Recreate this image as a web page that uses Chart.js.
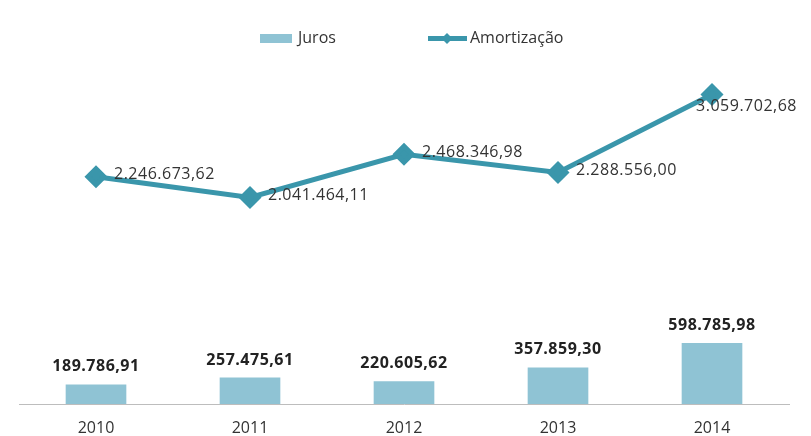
<!DOCTYPE html>
<html>
<head>
<meta charset="utf-8">
<script src="https://cdn.jsdelivr.net/npm/chart.js@4.4.1/dist/chart.umd.min.js"></script>
<style>
  body { margin: 0; background: #fff; }
  #wrap { width: 811px; height: 436px; }
</style>
</head>
<body>
<div id="wrap"><canvas id="myChart"></canvas></div>
<script>
const years = ["2010", "2011", "2012", "2013", "2014"];
const juros = [189786.91, 257475.61, 220605.62, 357859.3, 598785.98];
const amortizacao = [2246673.62, 2041464.11, 2468346.98, 2288556.0, 3059702.68];

const barColor = "#8fc3d4";
const lineColor = "#3a96ab";

// 1234567.8 -> "1.234.567,80"
function fmt(v) {
  const parts = v.toFixed(2).split(".");
  return parts[0].replace(/\B(?=(\d{3})+(?!\d))/g, ".") + "," + parts[1];
}

const labelsPlugin = {
  id: "labels",
  afterDatasetsDraw(chart) {
    const ctx = chart.ctx;
    ctx.save();
    ctx.letterSpacing = "0.5px";

    // bar labels, bold, above each bar
    ctx.font = "bold 16px 'Open Sans'";
    ctx.fillStyle = "#222";
    ctx.textAlign = "center";
    ctx.textBaseline = "bottom";
    chart.getDatasetMeta(0).data.forEach((bar, i) => {
      ctx.fillText(fmt(juros[i]), bar.x, bar.y - 10);
    });

    // line labels, to the right of the points
    ctx.font = "16px 'Open Sans'";
    ctx.fillStyle = "#333";
    ctx.textAlign = "left";
    ctx.textBaseline = "middle";
    chart.getDatasetMeta(1).data.forEach((pt, i) => {
      const txt = fmt(amortizacao[i]);
      const w = ctx.measureText(txt).width;
      let x = pt.x + 18;
      let y = pt.y - 2;
      if (x + w > chart.width - 14) {
        x = chart.width - 14 - w;
        y = pt.y + 12;
      }
      ctx.fillText(txt, x, y);
    });
    ctx.restore();
  },
  afterDraw(chart) {
    // legend
    const ctx = chart.ctx;
    ctx.save();
    ctx.fillStyle = barColor;
    ctx.fillRect(260, 34, 32, 9);
    ctx.font = "16px 'Open Sans'";
    ctx.fillStyle = "#333";
    ctx.textBaseline = "middle";
    ctx.fillText("Juros", 298, 38);

    ctx.strokeStyle = lineColor;
    ctx.lineWidth = 5;
    ctx.beginPath();
    ctx.moveTo(428, 38.5);
    ctx.lineTo(467, 38.5);
    ctx.stroke();
    ctx.fillStyle = lineColor;
    ctx.beginPath();
    ctx.moveTo(447, 33);
    ctx.lineTo(452.5, 38.5);
    ctx.lineTo(447, 44);
    ctx.lineTo(441.5, 38.5);
    ctx.closePath();
    ctx.fill();
    ctx.fillStyle = "#333";
    ctx.fillText("Amortização", 470, 38);
    ctx.restore();
  },
};

const config = {
  type: "bar",
  data: {
    labels: years,
    datasets: [
      {
        type: "bar",
        label: "Juros",
        data: juros,
        backgroundColor: barColor,
        barThickness: 60,
        order: 2,
      },
      {
        type: "line",
        label: "Amortização",
        data: amortizacao,
        borderColor: lineColor,
        backgroundColor: lineColor,
        borderWidth: 5,
        pointStyle: "rectRot",
        pointRadius: 8,
        pointHoverRadius: 8,
        tension: 0,
        order: 1,
      },
    ],
  },
  options: {
    responsive: true,
    maintainAspectRatio: false,
    animation: false,
    layout: {
      autoPadding: false,
      padding: { top: 60, left: 19, right: 22, bottom: 0 },
    },
    plugins: {
      legend: { display: false },
      tooltip: { enabled: false },
    },
    scales: {
      x: {
        grid: { display: false, drawTicks: false },
        border: { display: true, color: "#bdbdbd", width: 1 },
        ticks: {
          color: "#333",
          padding: 15,
          font: { size: 16, family: "'Open Sans'" },
        },
        afterFit(scale) {
          scale.height = 32;
        },
      },
      y: {
        display: false,
        min: 0,
        max: 3400000,
      },
    },
  },
  plugins: [labelsPlugin],
};

let myChart = new Chart(document.getElementById("myChart"), config);
</script>
</body>
</html>
